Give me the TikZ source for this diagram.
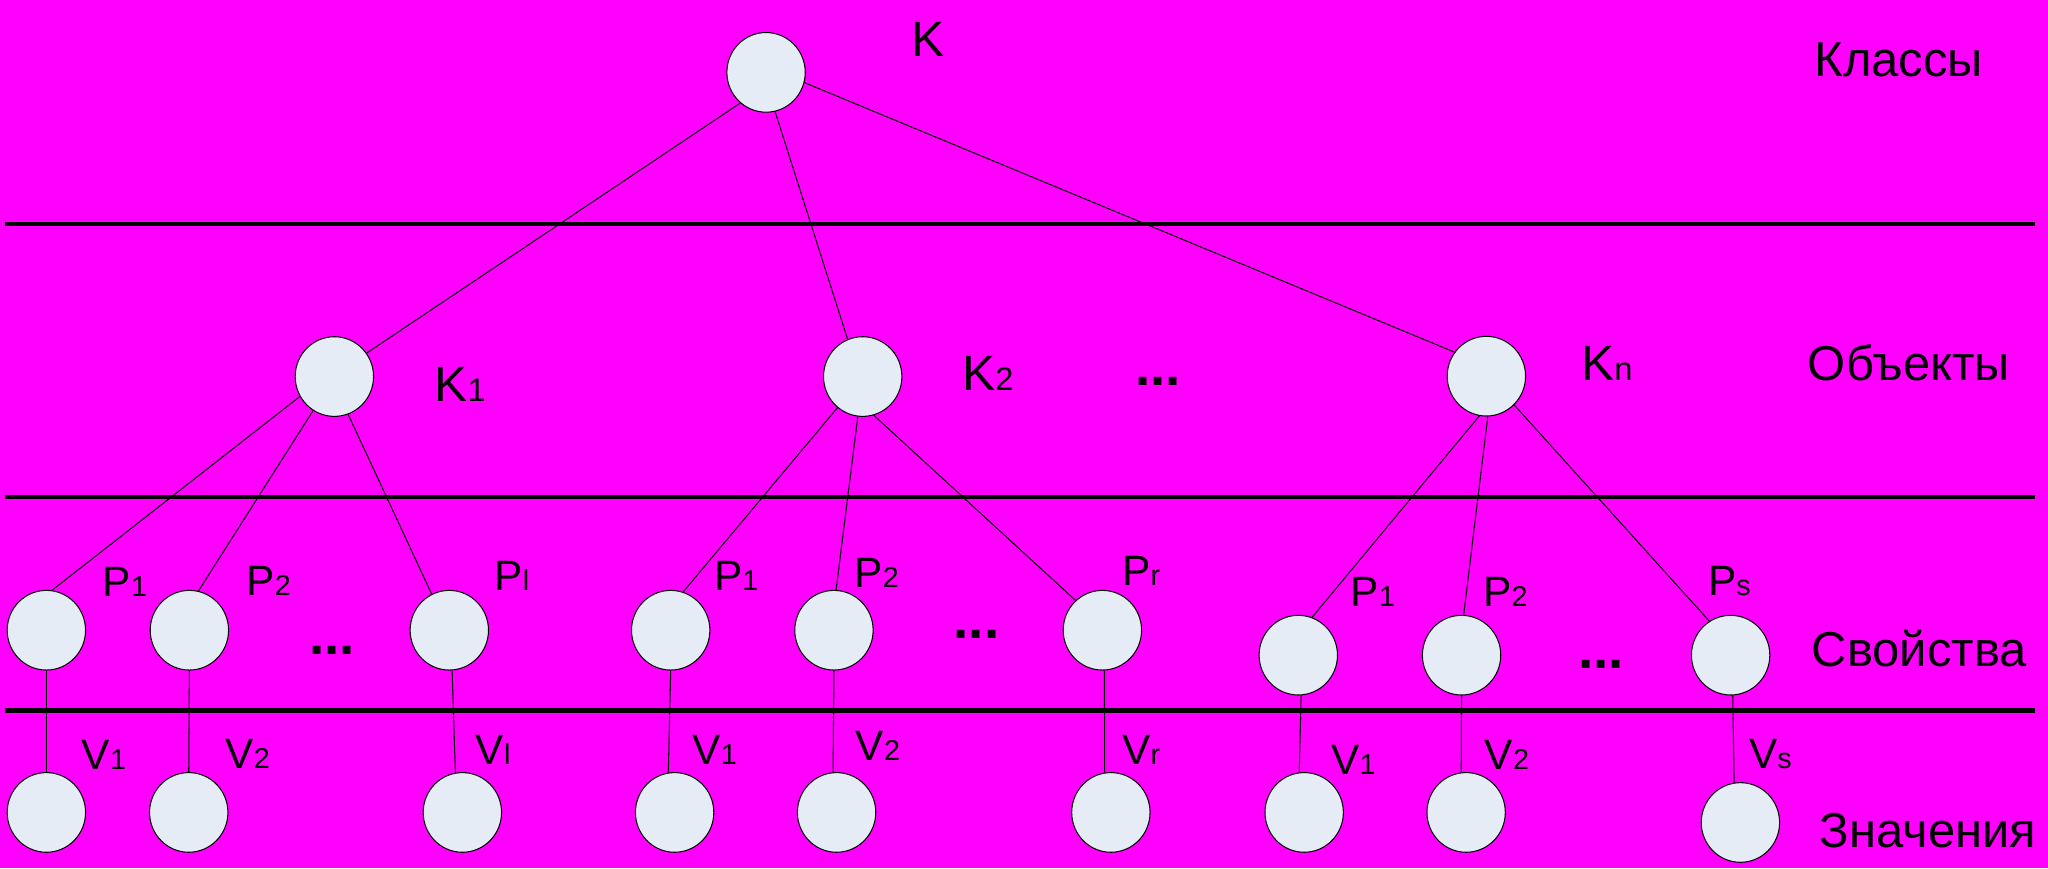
\documentclass[tikz,border=0pt]{standalone}
\usepackage{fontspec}
\setmainfont{Liberation Sans}
\usetikzlibrary{shapes.geometric}
\definecolor{bgmag}{HTML}{FF00FF}
\definecolor{nodefill}{HTML}{E6ECF6}
\newcommand{\subK}[1]{{\fontsize{25}{27}\selectfont #1}}
\newcommand{\subP}[1]{{\fontsize{22}{24}\selectfont #1}}
\tikzset{
  nd/.style={ellipse, draw=black, line width=0.8pt, fill=nodefill, minimum width=60pt, minimum height=61pt, inner sep=0pt},
  link/.style={line width=0.8pt},
  sepline/.style={line width=3.3pt},
  klbl/.style={anchor=base west, inner sep=0pt, font=\fontsize{38}{40}\selectfont},
  plbl/.style={anchor=base west, inner sep=0pt, font=\fontsize{32.5}{34}\selectfont},
  catlbl/.style={anchor=base west, inner sep=0pt, font=\fontsize{37.5}{40}\selectfont},
  dotlbl/.style={anchor=base west, inner sep=0pt, font=\fontsize{42}{44}\selectfont\bfseries}
}
\begin{document}
\begin{tikzpicture}[x=1pt, y=-1pt]
\fill[bgmag] (0,0) rectangle (1568,664.6);
\useasboundingbox (0,0) rectangle (1568,664.6);
% separator lines
\coordinate (s1a) at (4,171.5); \coordinate (s1b) at (1558,171.5);
\coordinate (s2a) at (4,380.5); \coordinate (s2b) at (1558,380.5);
\coordinate (s3a) at (4,544); \coordinate (s3b) at (1558,544);
\draw[sepline] (s1a) -- (s1b);
\draw[sepline] (s2a) -- (s2b);
\draw[sepline] (s3a) -- (s3b);
% nodes
\node[nd] (K) at (586.5,55.4) {};
\node[nd] (K1) at (256,288.3) {};
\node[nd] (K2) at (660.5,288.3) {};
\node[nd] (Kn) at (1138,288) {};
\node[nd] (Pa1) at (35.5,482.5) {};
\node[nd] (Pa2) at (145,482.5) {};
\node[nd] (Pal) at (344,482.5) {};
\node[nd] (Pb1) at (513.5,482.5) {};
\node[nd] (Pb2) at (638.5,482.5) {};
\node[nd] (Pbr) at (844,482.5) {};
\node[nd] (Pc1) at (994,501.6) {};
\node[nd] (Pc2) at (1119,501.6) {};
\node[nd] (Pcs) at (1325,501.6) {};
\node[nd] (Va1) at (35.5,622) {};
\node[nd] (Va2) at (144.5,622) {};
\node[nd] (Val) at (354,622) {};
\node[nd] (Vb1) at (516.5,622) {};
\node[nd] (Vb2) at (640.5,622) {};
\node[nd] (Vbr) at (850.5,622) {};
\node[nd] (Vc1) at (998.5,622) {};
\node[nd] (Vc2) at (1122.5,622) {};
\node[nd] (Vcs) at (1332.5,629.7) {};
% connectors
\draw[link] (K.230) -- (K1.36);
\draw[link] (K.283) -- (K2.112);
\draw[link] (K.345) -- (Kn.143);
\draw[link] (K1.210) -- (Pa1.82);
\draw[link] (K1.238) -- (Pa2.77);
\draw[link] (K1.290) -- (Pal.116);
\draw[link] (K2.231) -- (Pb1.72);
\draw[link] (K2.263) -- (Pb2.87);
\draw[link] (K2.286) -- (Pbr.132);
\draw[link] (Kn.260) -- (Pc1.70);
\draw[link] (Kn.272) -- (Pc2.87);
\draw[link] (Kn.314) -- (Pcs.122);
\draw[link] (Pa1.270) -- (Va1.90);
\draw[link] (Pa2.270) -- (Va2.90);
\draw[link] (Pal.274) -- (Val.100);
\draw[link] (Pb1.270) -- (Vb1.99);
\draw[link] (Pb2.270) -- (Vb2.95);
\draw[link] (Pbr.273) -- (Vbr.99);
\draw[link] (Pc1.274) -- (Vc1.97);
\draw[link] (Pc2.270) -- (Vc2.97);
\draw[link] (Pcs.273) -- (Vcs.99);
% K labels
\node[klbl] (lK) at (697.5,43.4) {K};
\node[klbl] (lK1) at (332.5,307.4) {K\subK{1}};
\node[klbl] (lK2) at (736.5,299) {K\subK{2}};
\node[klbl] (lKn) at (1210.5,291.3) {K\subK{n}};
\node[dotlbl] (dm) at (869,295) {...};
% P labels
\node[plbl] (lPa1) at (78.5,457) {P\subP{1}};
\node[plbl] (lPa2) at (188.5,455.7) {P\subP{2}};
\node[plbl] (lPal) at (378.5,452) {P\subP{l}};
\node[plbl] (lPb1) at (546.5,452.4) {P\subP{1}};
\node[plbl] (lPb2) at (654,450) {P\subP{2}};
\node[plbl] (lPbr) at (859,448) {P\subP{r}};
\node[plbl] (lPc1) at (1034,464) {P\subP{1}};
\node[plbl] (lPc2) at (1135.5,464) {P\subP{2}};
\node[plbl] (lPcs) at (1307.5,456.2) {P\subP{s}};
\node[dotlbl] (da) at (236.5,501) {...};
\node[dotlbl] (db) at (730,489) {...};
\node[dotlbl] (dc) at (1208,512) {...};
% V labels
\node[plbl] (lVa1) at (62.5,589) {V\subP{1}};
\node[plbl] (lVa2) at (172.5,588.4) {V\subP{2}};
\node[plbl] (lVal) at (364,585) {V\subP{l}};
\node[plbl] (lVb1) at (530,585) {V\subP{1}};
\node[plbl] (lVb2) at (655,582) {V\subP{2}};
\node[plbl] (lVbr) at (859,585) {V\subP{r}};
\node[plbl] (lVc1) at (1019,592.7) {V\subP{1}};
\node[plbl] (lVc2) at (1136.5,589) {V\subP{2}};
\node[plbl] (lVcs) at (1339,588) {V\subP{s}};
% category labels
\node[catlbl] (c1) at (1389,58.7) {Классы};
\node[catlbl] (c2) at (1384,291) {Объекты};
\node[catlbl] (c3) at (1387,510) {Свойства};
\node[catlbl] (c4) at (1393,649) {Значения};
\end{tikzpicture}
\end{document}
